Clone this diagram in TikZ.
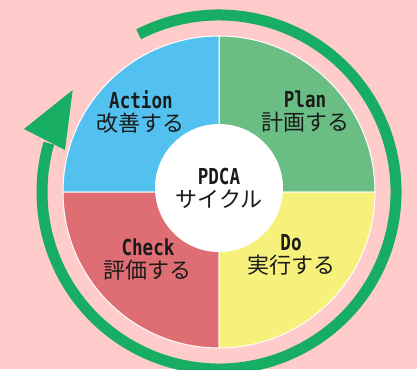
\documentclass[tikz,border=0pt]{standalone}
\usepackage{fontspec}
\setmainfont{Noto Sans CJK JP}
\newfontfamily\hanfont[FakeStretch=0.8]{DejaVu Sans Mono}
\definecolor{bgpink}{HTML}{FFCBCB}
\definecolor{ringgreen}{HTML}{17AD62}
\definecolor{plangreen}{HTML}{6ABE83}
\definecolor{actblue}{HTML}{52C1F0}
\definecolor{chkred}{HTML}{DE6E73}
\definecolor{doyellow}{HTML}{F6F17A}
\definecolor{txt}{HTML}{1A1A1A}

\begin{document}
\begin{tikzpicture}[x=1pt, y=1pt,
			lbl/.style={align=center, text=txt, inner sep=0pt, font=\fontsize{22}{23}\selectfont}]
			\fill[bgpink] (-219, -177) rectangle (198, 192);
			\useasboundingbox (-219, -177) rectangle (198, 192);
			% four quarters
			\foreach \a/\col in {0/plangreen, 90/actblue, 180/chkred, 270/doyellow}
			\filldraw[fill=\col, draw=white, line width=1] (0, 0) -- (\a:156) arc (\a:\a+90:156) -- cycle;
			\node[lbl, circle, fill=white, minimum size=128] (pdca) at (0, 4) {{\hanfont\bfseries PDCA}\\サイクル};
			% ring arrow
			\draw[ringgreen, line width=11] (117:177) arc (117:-196:177);
			\fill[ringgreen] (-195, 63) -- (-146.3, 102) -- (-154, 42) -- cycle;
			\node[lbl] (act) at (-78, 80) {{\hanfont\bfseries Action}\\改善する};
			\node[lbl] (plan) at (86, 80) {{\hanfont\bfseries Plan}\\計画する};
			\node[lbl] (chk) at (-71, -68) {{\hanfont\bfseries Check}\\評価する};
			\node[lbl] (do) at (72, -63) {{\hanfont\bfseries Do}\\実行する};
			\end{tikzpicture}
\end{document}
